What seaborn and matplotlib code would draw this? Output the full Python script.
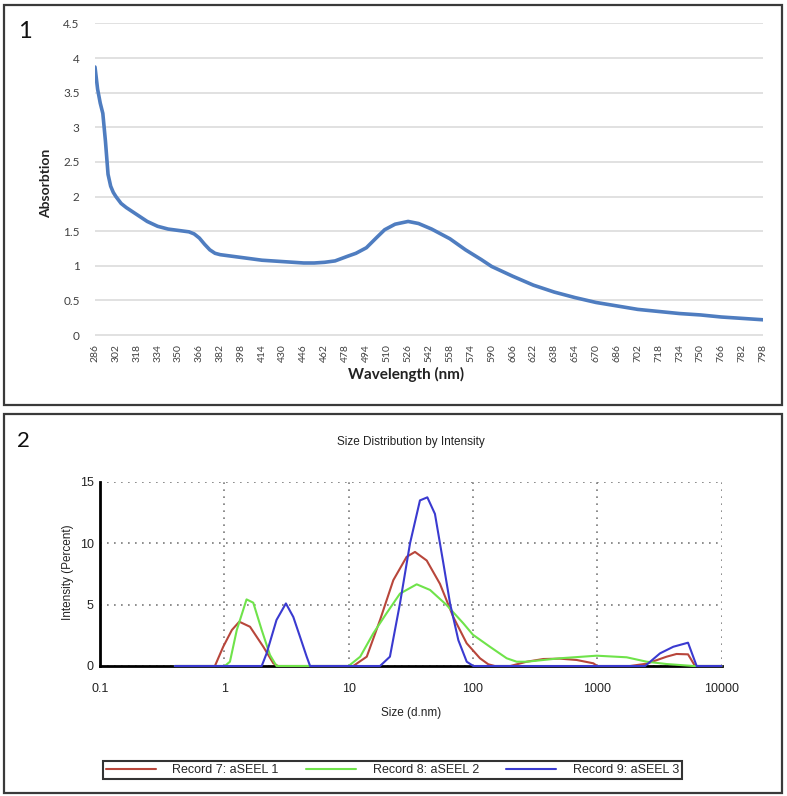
import matplotlib
matplotlib.use("Agg")
import matplotlib.pyplot as plt
import matplotlib.ticker as mticker
from matplotlib.patches import Rectangle
from matplotlib.lines import Line2D
import numpy as np
import pandas as pd
import seaborn as sns

# ---------------- data: panel 1 (UV-Vis) ----------------
wavelength = [286, 288, 290, 292, 294, 296, 298, 300, 302, 306, 310, 318, 326, 334,
              342, 350, 358, 362, 366, 370, 374, 378, 382, 390, 398, 414, 430, 446,
              454, 462, 470, 480, 486, 494, 502, 508, 516, 526, 534, 544, 558, 570,
              582, 590, 598, 606, 622, 638, 654, 670, 686, 702, 718, 734, 750, 766,
              782, 798]
absorbance = [3.87, 3.55, 3.35, 3.20, 2.80, 2.32, 2.15, 2.06, 2.00, 1.90, 1.84, 1.74,
              1.64, 1.57, 1.53, 1.51, 1.49, 1.46, 1.40, 1.31, 1.23, 1.18, 1.16, 1.14,
              1.12, 1.08, 1.06, 1.04, 1.04, 1.05, 1.07, 1.14, 1.18, 1.26, 1.41, 1.52,
              1.60, 1.64, 1.61, 1.53, 1.39, 1.23, 1.09, 0.99, 0.92, 0.85, 0.72, 0.62,
              0.54, 0.47, 0.42, 0.37, 0.34, 0.31, 0.29, 0.26, 0.24, 0.22]
wl_ticks = list(range(286, 799, 16))
abs_ticks = [0, 0.5, 1, 1.5, 2, 2.5, 3, 3.5, 4, 4.5]

# ---------------- data: panel 2 (DLS) ----------------
rec7_size = [0.4, 0.84, 0.98, 1.15, 1.32, 1.61, 2.06, 2.48, 2.7, 10.9, 14, 17.9, 22.9,
             29.3, 34.2, 42.5, 54.3, 69.5, 89.1, 114, 133, 150, 200, 271, 369, 501,
             684, 931, 1000, 1837, 2500, 3617, 4345, 5380, 6125, 10000]
rec7_int = [0, 0, 1.57, 2.93, 3.61, 3.2, 1.57, 0.22, 0, 0, 0.76, 3.75, 7.0, 8.9, 9.3,
            8.6, 6.7, 4.0, 1.85, 0.63, 0.14, 0, 0, 0.35, 0.57, 0.6, 0.49, 0.22, 0, 0,
            0.19, 0.76, 0.98, 0.95, 0, 0]
rec8_size = [0.4, 1.01, 1.11, 1.26, 1.51, 1.71, 2.0, 2.33, 2.63, 10, 12.4, 15.8, 20.2,
             25.9, 35.3, 45.2, 61.5, 83.7, 100, 137, 187, 225, 271, 501, 991, 1726,
             2500, 3617, 5930, 10000]
rec8_int = [0, 0, 0.35, 2.93, 5.43, 5.16, 2.93, 0.9, 0, 0, 0.76, 2.66, 4.3, 5.9, 6.66,
            6.2, 4.97, 3.48, 2.55, 1.57, 0.63, 0.35, 0.35, 0.63, 0.84, 0.71, 0.35, 0.16,
            0, 0]
rec9_size = [0.4, 2.0, 2.19, 2.63, 3.13, 3.59, 4.06, 4.6, 4.9, 17.9, 21.5, 25.9, 31.2,
             37.5, 43, 49.5, 57.8, 65.5, 76.4, 89.2, 100.7, 2430, 3200, 4096, 5380,
             6310, 10000]
rec9_int = [0, 0, 1.03, 3.75, 5.1, 4.0, 2.4, 0.76, 0, 0, 0.76, 5.1, 10.0, 13.5, 13.75,
            12.4, 8.4, 5.1, 2.1, 0.35, 0, 0, 1.03, 1.57, 1.9, 0, 0]
record_names = ["Record 7: aSEEL 1", "Record 8: aSEEL 2", "Record 9: aSEEL 3"]
record_colors = ["#B8463B", "#6FE34A", "#3A3AD0"]
size_ticks = [0.1, 1, 10, 100, 1000, 10000]
size_tick_labels = ["0.1", "1", "10", "100", "1000", "10000"]
int_ticks = [0, 5, 10, 15]

df1 = pd.DataFrame({"wavelength": wavelength, "absorbance": absorbance})
df2 = pd.concat([
    pd.DataFrame({"size": rec7_size, "intensity": rec7_int, "record": record_names[0]}),
    pd.DataFrame({"size": rec8_size, "intensity": rec8_int, "record": record_names[1]}),
    pd.DataFrame({"size": rec9_size, "intensity": rec9_int, "record": record_names[2]}),
], ignore_index=True)

sns.set_style("white")
plt.rcParams["font.family"] = ["Lato", "DejaVu Sans"]

W, H = 787, 796
fig = plt.figure(figsize=(W / 100, H / 100), dpi=100)


def rect(l, t, r, b):
    return [l / W, 1 - b / H, (r - l) / W, (b - t) / H]


# panel frames
for (l, t, r, b) in [(4, 5, 782, 405), (4, 414, 782, 793)]:
    fig.patches.append(Rectangle((l / W, 1 - b / H), (r - l) / W, (b - t) / H,
                                 transform=fig.transFigure, fill=False,
                                 edgecolor="#3a3a3a", lw=1.6))

# ---------------- panel 1 ----------------
ax1 = fig.add_axes(rect(95, 22.7, 763, 335.7))
sns.lineplot(data=df1, x="wavelength", y="absorbance", ax=ax1, color="#4F7DC0",
             lw=2.6, sort=False)
ax1.set_xlim(286, 798)
ax1.set_ylim(-0.01, 4.51)
ax1.set_yticks(abs_ticks)
ax1.set_yticklabels([f"{v:g}" for v in abs_ticks])
ax1.set_xticks(wl_ticks)
ax1.set_xticklabels([str(v) for v in wl_ticks], rotation=90)
ax1.yaxis.grid(True, color="#D9D9D9", lw=1.1)
ax1.xaxis.grid(False)
for s in ax1.spines.values():
    s.set_visible(False)
ax1.tick_params(axis="y", length=0, pad=11, labelsize=8.5, labelcolor="#404040")
ax1.tick_params(axis="x", length=0, pad=6, labelsize=7.5, labelcolor="#404040")
ax1.set_xlabel("Wavelength (nm)", fontsize=11, fontweight="bold", color="#222222")
ax1.set_ylabel("Absorbtion", fontsize=10, fontweight="bold", color="#222222")
ax1.xaxis.set_label_coords(0.466, -0.1)
ax1.yaxis.set_label_coords(-0.065, 0.488)
fig.text(18 / W, 1 - 38 / H, "1", fontsize=17, color="#111111", family=["Lato", "DejaVu Sans"])

# ---------------- panel 2 ----------------
arial = ["Liberation Sans", "DejaVu Sans"]
ax2 = fig.add_axes(rect(100, 482, 721.5, 666))
sns.lineplot(data=df2, x="size", y="intensity", hue="record", hue_order=record_names,
             palette=record_colors, estimator=None, sort=False, lw=1.5, ax=ax2,
             legend=False, zorder=2.6)
for ln in ax2.lines:
    ln.set_clip_on(False)
ax2.set_xscale("log")
ax2.set_xlim(0.1, 10000)
ax2.set_ylim(0, 15)
ax2.set_xticks(size_ticks)
ax2.set_xticklabels(size_tick_labels, family=arial)
ax2.xaxis.set_minor_locator(mticker.LogLocator(base=10, subs=np.arange(2, 10)))
ax2.xaxis.set_minor_formatter(mticker.NullFormatter())
ax2.set_yticks(int_ticks)
ax2.set_yticklabels([str(v) for v in int_ticks], family=arial)
ax2.yaxis.set_minor_locator(mticker.FixedLocator([2.5, 7.5, 12.5]))
ax2.grid(True, which="major", color="#7a7a7a", lw=1.2, linestyle=(0, (1, 3.2)))
ax2.spines["top"].set_visible(False)
ax2.spines["right"].set_visible(False)
for s in ("left", "bottom"):
    ax2.spines[s].set_color("black")
    ax2.spines[s].set_linewidth(2)
ax2.tick_params(which="both", direction="inout", color="black", width=1.6)
ax2.tick_params(which="major", length=6, labelsize=9, labelcolor="#222222")
ax2.tick_params(axis="x", which="major", pad=9)
ax2.tick_params(axis="y", which="major", pad=1.5)
ax2.tick_params(which="minor", length=5)
ax2.set_xlabel("Size (d.nm)", fontsize=8.5, family=arial, color="#222222")
ax2.set_ylabel("Intensity (Percent)", fontsize=8.5, family=arial, color="#222222")
ax2.xaxis.set_label_coords((411 - 100) / 621.5, -(707 - 666) / 184)
ax2.yaxis.set_label_coords(-(100 - 74) / 621.5, (666 - 572) / 184)
ax2.set_title("Size Distribution by Intensity", fontsize=8.5, family=arial,
              color="#222222", pad=26.5)
fig.text(17 / W, 1 - 447 / H, "2", fontsize=16, color="#111111", family=["Lato", "DejaVu Sans"])

handles = [Line2D([], [], color=c, lw=1.5) for c in record_colors]
leg = fig.legend(handles, record_names, loc="lower left", ncol=3, mode="expand",
                 bbox_to_anchor=(103 / W, 1 - 779 / H, 579 / W, 23 / H),
                 frameon=True, fancybox=False, edgecolor="black", handlelength=4,
                 handletextpad=1.3, borderpad=0.25, borderaxespad=0,
                 prop={"family": arial, "size": 9})
leg.get_frame().set_linewidth(1.5)

fig.savefig("out.png", dpi=100)
